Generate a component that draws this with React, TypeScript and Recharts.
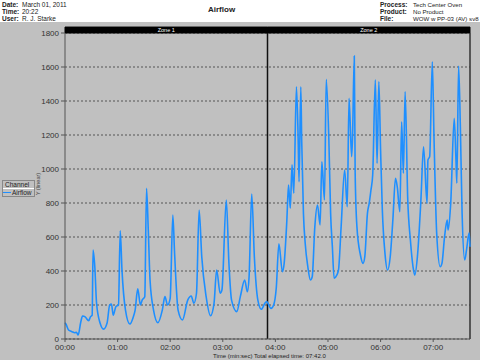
import { LineChart, Line, XAxis, YAxis, CartesianGrid, ReferenceLine, ReferenceArea } from 'recharts'

// elapsed seconds and airflow readings
const seconds = [
  0, 1, 4, 8, 11, 13, 15, 18, 20, 23, 27, 29, 31, 32, 34, 36, 40, 44, 48, 51, 53, 55, 58, 61, 63, 65, 69, 74, 78, 80,
  83, 86, 88, 91, 93, 95, 97, 101, 106, 111, 114, 117, 120, 123, 125, 129, 134, 140, 144, 147, 150, 153, 156, 161, 166,
  170, 173, 177, 179, 184, 187, 190, 196, 200, 205, 208, 210, 213, 216, 220, 224, 228, 230, 235, 238, 241, 244, 248,
  250, 253, 255, 257, 259, 261, 264, 266, 267, 269, 270, 272, 274, 277, 280, 282, 285, 288, 291, 293, 296, 298, 301,
  303, 305, 307, 310, 312, 315, 319, 322, 324, 327, 328, 330, 331, 333, 337, 340, 342, 345, 347, 349, 351, 354, 356,
  358, 360, 362, 365, 368, 371, 374, 377, 379, 382, 384, 386, 388, 391, 394, 397, 399, 402, 406, 409, 413, 414, 416,
  419, 421, 424, 428, 430, 433, 436, 437, 440, 444, 446, 447, 449, 451, 453, 456, 458, 461, 462,
]
const airflow = [
  95, 88, 53, 43, 37, 40, 24, 100, 135, 130, 108, 130, 140, 523, 425, 210, 94, 58, 94, 200, 205, 140, 190, 200, 637, 405,
  170, 88, 131, 170, 295, 200, 229, 249, 886, 641, 347, 170, 96, 170, 249, 200, 239, 729, 505, 170, 112, 229, 253, 210,
  269, 759, 484, 249, 137, 210, 406, 269, 288, 818, 445, 229, 161, 249, 347, 278, 366, 853, 484, 229, 175, 210, 220,
  180, 200, 300, 560, 396, 445, 690, 906, 769, 1024, 857, 1484, 1171, 925, 1484, 1171, 739, 563, 425, 347, 366, 661,
  788, 671, 1043, 818, 1527, 1171, 739, 543, 357, 376, 406, 661, 994, 778, 1416, 1073, 1190, 1665, 975, 661, 494, 445,
  484, 739, 798, 876, 965, 1524, 1033, 1514, 1112, 759, 504, 406, 484, 700, 945, 896, 749, 1278, 975, 1455, 818, 582,
  425, 376, 484, 818, 1131, 798, 1053, 1073, 1631, 1171, 622, 425, 445, 602, 700, 641, 798, 1298, 1053, 916, 1606,
  1249, 739, 465, 523, 625, 543,
]

const xTicks = [0, 60, 120, 180, 240, 300, 360, 420]
const yTicks = [0, 200, 400, 600, 800, 1000, 1200, 1400, 1600, 1800]
const zoneEdges = [0, 231, 462]
const zoneNames = ['Zone 1', 'Zone 2']

const data = seconds.map((t, i) => ({ t, airflow: airflow[i] }))

const FONT = '"Liberation Sans", Arial, sans-serif'

function mmss(v: number): string {
  const m = Math.floor(v / 60)
  const s = Math.floor(v % 60)
  return `${m.toString().padStart(2, '0')}:${s.toString().padStart(2, '0')}`
}

const hdr = { position: 'absolute' as const, fontSize: 6.5, lineHeight: '7px', whiteSpace: 'nowrap' as const, color: '#222' }

export default function App() {
  return (
    <div style={{ position: 'relative', width: 480, height: 360, background: '#c0c0c0', fontFamily: FONT, overflow: 'hidden' }}>
      <style>{'body{margin:0}'}</style>
      <div style={{ position: 'absolute', left: 0, top: 0, width: 480, height: 22, background: '#fff' }} />
      <div style={{ ...hdr, left: 2, top: 1, fontWeight: 'bold' }}>Date:<br />Time:<br />User:</div>
      <div style={{ ...hdr, left: 22, top: 1 }}>March 01, 2011<br />20:22<br />R. J. Starke</div>
      <div style={{ ...hdr, left: 208, top: 6, fontSize: 8, fontWeight: 'bold' }}>Airflow</div>
      <div style={{ ...hdr, left: 380, top: 1, fontWeight: 'bold' }}>Process:<br />Product:<br />File:</div>
      <div style={{ ...hdr, left: 413, top: 1, fontSize: 6.1 }}>Tech Center Oven<br />No Product<br />WOW w PP-03 (AV) sv8</div>

      <div style={{ position: 'absolute', left: 0, top: 0 }}>
        <LineChart width={480} height={360} data={data} margin={{ top: 33, right: 10, bottom: 0, left: 0 }}>
          <CartesianGrid vertical={false} stroke="#555" strokeDasharray="2 2" />
          <XAxis
            dataKey="t"
            type="number"
            domain={[0, 462]}
            ticks={xTicks}
            tickFormatter={mmss}
            height={21}
            tickSize={3}
            tick={{ fontSize: 8, fill: '#333', fontFamily: FONT }}
            axisLine={{ stroke: '#555' }}
            tickLine={{ stroke: '#555' }}
          />
          <YAxis
            type="number"
            domain={[0, 1800]}
            ticks={yTicks}
            width={65}
            tickSize={4}
            tick={{ fontSize: 8, fill: '#333', fontFamily: FONT }}
            axisLine={{ stroke: '#555' }}
            tickLine={{ stroke: '#555' }}
            allowDataOverflow
          />
          {zoneNames.map((z, i) => (
            <ReferenceArea
              key={z}
              x1={zoneEdges[i]}
              x2={zoneEdges[i + 1]}
              y1={1800}
              y2={1835}
              ifOverflow="visible"
              fill="#000"
              fillOpacity={1}
              stroke="#000"
              label={{ value: z, position: 'center', fill: '#fff', fontSize: 5.5, fontFamily: FONT }}
            />
          ))}
          <ReferenceLine x={zoneEdges[1]} stroke="#111" strokeWidth={1.5} />
          <ReferenceLine x={zoneEdges[2]} stroke="#333" strokeWidth={1.5} />
          <Line
            type="monotone"
            dataKey="airflow"
            stroke="#1e8fff"
            strokeWidth={1.6}
            dot={false}
            isAnimationActive={false}
          />
        </LineChart>
      </div>

      <div style={{ position: 'absolute', left: 213, top: 353, fontSize: 6, lineHeight: '7px', color: '#222', whiteSpace: 'nowrap' }}>
        Time (min:sec) Total elapsed time: 07:42.0
      </div>
      <div style={{ position: 'absolute', left: 22, top: 181, width: 32, fontSize: 5.5, lineHeight: '6px', color: '#444', transform: 'rotate(-90deg)', textAlign: 'center', whiteSpace: 'nowrap' }}>
        Y (linear)
      </div>
      <div style={{ position: 'absolute', left: 2, top: 180, width: 31, fontSize: 6.5, lineHeight: '7px', color: '#222', border: '1px solid #888', background: '#c0c0c0' }}>
        <div style={{ paddingLeft: 2, borderBottom: '1px solid #fff' }}>Channel</div>
        <div style={{ display: 'flex', alignItems: 'center' }}>
          <span style={{ display: 'inline-block', width: 8, height: 0, borderTop: '1.5px solid #1e8fff', marginRight: 1 }} />
          Airflow
        </div>
      </div>
    </div>
  )
}
